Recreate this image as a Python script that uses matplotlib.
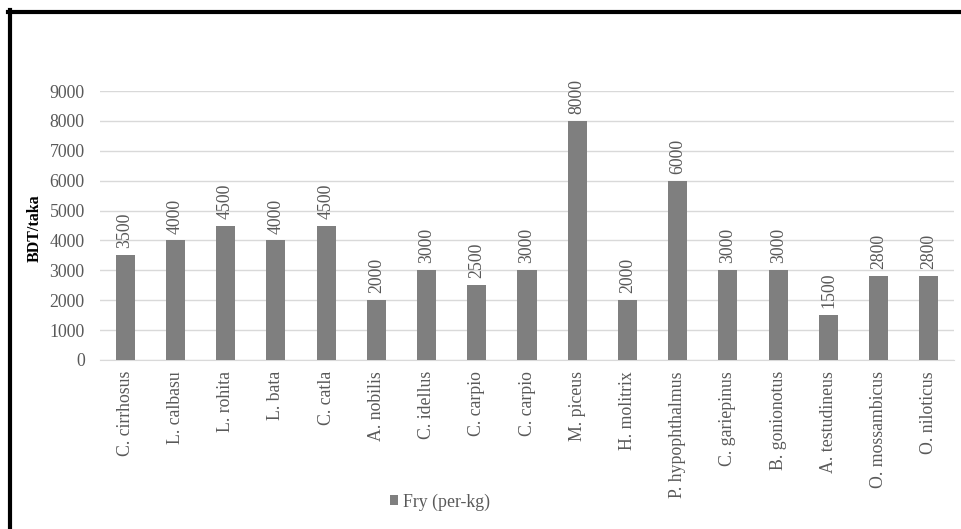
import numpy as np
import matplotlib.pyplot as plt
from matplotlib.lines import Line2D

# Fry price per kg for each species
species = ['C. cirrhosus', 'L. calbasu', 'L. rohita', 'L. bata', 'C. catla',
           'A. nobilis', 'C. idellus', 'C. carpio', 'C. carpio', 'M. piceus',
           'H. molitrix', 'P. hypophthalmus', 'C. gariepinus', 'B. gonionotus',
           'A. testudineus', 'O. mossambicus', 'O. niloticus']
fry_price = [3500, 4000, 4500, 4000, 4500, 2000, 3000, 2500, 3000, 8000,
             2000, 6000, 3000, 3000, 1500, 2800, 2800]
y_ticks = [0, 1000, 2000, 3000, 4000, 5000, 6000, 7000, 8000, 9000]

plt.rcParams['font.family'] = ['Liberation Serif', 'DejaVu Serif']
text_grey = '#595959'
bar_grey = '#7f7f7f'
fs = 12.8

fig = plt.figure(figsize=(9.61, 5.29), dpi=100, facecolor='w')
ax = fig.add_axes([100 / 961, 169 / 529, 854 / 961, 269 / 529])

x = np.arange(len(species))
bars = ax.bar(x, fry_price, width=0.38, color=bar_grey, label='Fry (per-kg)', zorder=3)

for xi, v in zip(x, fry_price):
    ax.annotate(str(v), (xi, v), xytext=(0, 5), textcoords='offset points',
                rotation=90, ha='center', va='bottom', fontsize=fs, color=text_grey)

ax.set_xlim(-0.5, len(species) - 0.5)
ax.set_ylim(0, 9000)
ax.set_yticks(y_ticks)
ax.set_xticks(x)
ax.set_xticklabels(species, rotation=90, fontsize=fs, color=text_grey)
ax.tick_params(axis='y', labelsize=fs, labelcolor=text_grey, length=0, pad=11)
ax.tick_params(axis='x', length=0, pad=8)
ax.grid(axis='y', color='#d9d9d9', lw=1, zorder=0)
for spine in ('top', 'right', 'left'):
    ax.spines[spine].set_visible(False)
ax.spines['bottom'].set_color('#d9d9d9')

fig.text(35 / 961, 1 - 228 / 529, 'BDT/taka', rotation=90, ha='center', va='center',
         fontsize=11.5, fontweight='bold', color='black')

fig.legend(handles=[bars], loc='center', bbox_to_anchor=(440 / 961, 1 - 502 / 529),
           frameon=False, fontsize=fs, labelcolor=text_grey, handlelength=0.45,
           handleheight=0.45, handletextpad=0.25)

# thick frame along the top and left edges
fig.add_artist(Line2D([8 / 961, 1], [1 - 12 / 529, 1 - 12 / 529], color='black', lw=3,
                      transform=fig.transFigure))
fig.add_artist(Line2D([10 / 961, 10 / 961], [0, 1 - 10 / 529], color='black', lw=3,
                      transform=fig.transFigure))

fig.savefig('out.png', dpi=100)
